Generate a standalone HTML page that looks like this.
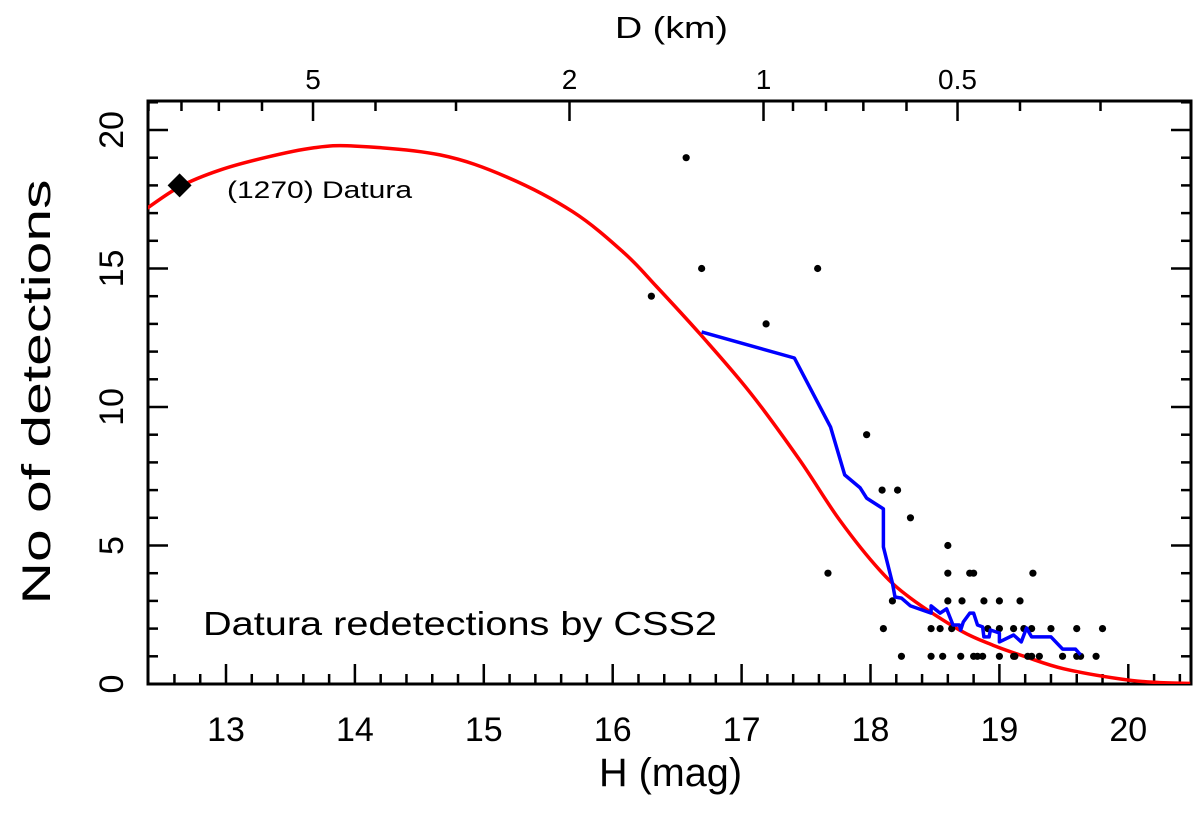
<!DOCTYPE html>
<html><head><meta charset="utf-8"><style>
html,body{margin:0;padding:0;background:#fff;}
svg{display:block;font-family:"Liberation Sans",sans-serif;}
</style></head><body>
<svg id="chart" width="1200" height="813" viewBox="0 0 1200 813" xmlns="http://www.w3.org/2000/svg"></svg>
<script>
const dotH=[16.30,16.57,16.69,17.19,17.59,17.97,17.67,18.09,18.21,18.31,18.60,18.60,18.77,18.80,19.26,
18.17,18.60,18.71,18.88,19.00,19.16,
18.10,18.47,18.54,18.63,18.91,19.00,19.11,19.19,19.25,19.40,19.60,19.80,
18.24,18.47,18.56,18.70,18.80,18.83,18.87,19.00,19.11,19.12,19.22,19.25,19.31,19.49,19.60,19.63,19.75];
const dotN=[14,19,15,13,15,9,4,7,7,6,5,4,4,4,4,
3,3,3,3,3,3,
2,2,2,2,2,2,2,2,2,2,2,2,
1,1,1,1,1,1,1,1,1,1,1,1,1,1,1,1,1];
const blueH=[16.69,17.41,17.69,17.80,17.92,17.97,18.10,18.10,18.17,18.19,18.24,18.31,18.47,18.47,18.54,18.59,18.64,18.69,18.70,18.72,18.77,18.80,18.83,18.87,18.88,18.92,18.93,19.00,19.00,19.11,19.17,19.21,19.25,19.30,19.40,19.49,19.59,19.63];
const blueN=[12.71,11.77,9.28,7.55,7.08,6.71,6.32,4.95,3.65,3.14,3.10,2.82,2.56,2.82,2.56,2.71,2.13,2.13,1.95,2.24,2.56,2.56,2.13,2.06,1.70,1.70,1.95,1.84,1.52,1.77,1.52,2.02,1.70,1.70,1.70,1.26,1.26,1.05];
const redH=[12.38,12.64,12.95,13.3,13.67,14.0,14.66,15.18,15.69,16.08,16.34,16.68,17.07,17.45,17.76,18.07,18.31,18.69,18.95,19.21,19.5,19.94,20.2,20.48];
const redN=[17.15,17.95,18.55,19.0,19.35,19.42,19.1,18.3,17.05,15.6,14.35,12.62,10.5,8.09,5.92,4.12,3.1,1.95,1.4,0.97,0.55,0.18,0.06,0.02];
const datura=[12.64,18];
const xTicks=[13,14,15,16,17,18,19,20];
const yTicks=[0,5,10,15,20];
const dMajor=[5,2,1,0.5];
const dMinor=[9,8,7,6,4,3,0.9,0.8,0.7,0.6,0.4,0.3];

const L=148,R=1191,T=101,B=684;
const X=h=>226+(h-13)*128.9;
const Y=v=>684-v*27.7;
const HofD=d=>17.17-5*Math.log10(d);
const svg=document.getElementById('chart');
const NS='http://www.w3.org/2000/svg';
function mk(tag,attrs,parent){const e=document.createElementNS(NS,tag);for(const k in attrs)e.setAttribute(k,attrs[k]);(parent||svg).appendChild(e);return e;}
function smooth(px,py){let d='M'+px[0].toFixed(1)+','+py[0].toFixed(1);
 for(let i=0;i<px.length-1;i++){const i0=Math.max(0,i-1),i3=Math.min(px.length-1,i+2);
  const c1x=px[i]+(px[i+1]-px[i0])/6,c1y=py[i]+(py[i+1]-py[i0])/6;
  const c2x=px[i+1]-(px[i3]-px[i])/6,c2y=py[i+1]-(py[i3]-py[i])/6;
  d+=`C${c1x.toFixed(1)},${c1y.toFixed(1)} ${c2x.toFixed(1)},${c2y.toFixed(1)} ${px[i+1].toFixed(1)},${py[i+1].toFixed(1)}`;}
 return d;}

const defs=mk('defs',{});
const cp=mk('clipPath',{id:'clip'},defs);
mk('rect',{x:L,y:T,width:R-L,height:B-T},cp);

const tg=mk('g',{stroke:'#000','stroke-width':2.5});


for(let i=0;i<=45;i++){const h=12.4+i*0.2;const x=X(h);if(x<L+1||x>R-1)continue;
 const major=Math.abs(h-Math.round(h))<0.01;const len=major?20:10;
 mk('line',{x1:x,y1:B,x2:x,y2:B-len},tg);}
for(let v=1;v<=21;v++){const y=Y(v);if(y<T+1)continue;const len=(v%5==0)?20:10;
 mk('line',{x1:L,y1:y,x2:L+len,y2:y},tg);mk('line',{x1:R,y1:y,x2:R-len,y2:y},tg);}
dMajor.forEach(d=>{const x=X(HofD(d));mk('line',{x1:x,y1:T,x2:x,y2:T+20},tg);});
dMinor.forEach(d=>{const x=X(HofD(d));if(x>L&&x<R)mk('line',{x1:x,y1:T,x2:x,y2:T+10},tg);});

const fr=mk('rect',{x:L,y:T,width:R-L,height:B-T,fill:'none',stroke:'#000','stroke-width':3});



xTicks.forEach(h=>{const t=mk('text',{x:X(h),y:741,'font-size':34,'text-anchor':'middle'});t.textContent=h;
 
 });
yTicks.forEach(v=>{const t=mk('text',{x:0,y:0,'font-size':34,'text-anchor':'middle',transform:`translate(123,${Y(v)}) rotate(-90)`});t.textContent=v;
 
 });
dMajor.forEach(d=>{const t=mk('text',{x:X(HofD(d)),y:89,'font-size':28,'text-anchor':'middle'});t.textContent=d;
 
 });

let t=mk('text',{x:599,y:786,'font-size':40,textLength:143,lengthAdjust:'spacingAndGlyphs'});t.textContent='H (mag)';


t=mk('text',{x:0,y:0,'font-size':40,'text-anchor':'middle',textLength:425,lengthAdjust:'spacingAndGlyphs',transform:'translate(50,392) rotate(-90)'});t.textContent='No of detections';


t=mk('text',{x:615,y:38,'font-size':31,textLength:113,lengthAdjust:'spacingAndGlyphs'});t.textContent='D (km)';


t=mk('text',{x:203,y:635,'font-size':33,textLength:514,lengthAdjust:'spacingAndGlyphs'});t.textContent='Datura redetections by CSS2';


t=mk('text',{x:227,y:198,'font-size':24,textLength:185,lengthAdjust:'spacingAndGlyphs'});t.textContent='(1270) Datura';



const pg=mk('g',{'clip-path':'url(#clip)'});
const red=mk('path',{d:smooth(redH.map(X),redN.map(Y)),fill:'none',stroke:'#ff0000','stroke-width':3.5},pg);


dotH.forEach((h,i)=>{const c=mk('circle',{cx:X(h),cy:Y(dotN[i]),r:3.6,fill:'#000'},pg);
 
 });
let d='';blueH.forEach((h,i)=>{d+=(i?'L':'M')+X(h).toFixed(1)+','+Y(blueN[i]).toFixed(1);});
const blue=mk('path',{d:d,fill:'none',stroke:'#0000ff','stroke-width':3.5,'stroke-linejoin':'round'},pg);


const dx=X(datura[0]),dy=Y(datura[1]);
const dm=mk('polygon',{points:`${dx},${dy-12} ${dx+12},${dy} ${dx},${dy+12} ${dx-12},${dy}`,fill:'#000'});


</script>
</body></html>
